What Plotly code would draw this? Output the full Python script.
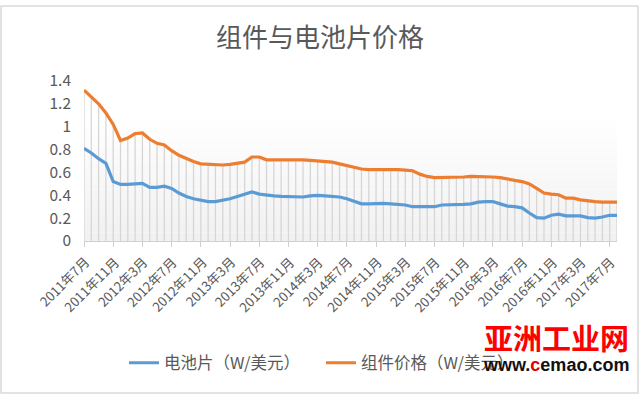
import plotly.graph_objects as go

months = []
for k in range(74):
    y = 2011 + (6 + k) // 12
    m = (6 + k) % 12 + 1
    months.append(f"{y}年{m}月")

cell_price = [0.81, 0.77, 0.72, 0.68, 0.52, 0.495, 0.495, 0.50, 0.505, 0.47,
              0.47, 0.48, 0.46, 0.42, 0.39, 0.37, 0.355, 0.345, 0.345, 0.355,
              0.37, 0.39, 0.41, 0.43, 0.41, 0.40, 0.395, 0.39, 0.39, 0.385,
              0.385, 0.395, 0.40, 0.395, 0.39, 0.385, 0.37, 0.345, 0.325, 0.325,
              0.33, 0.33, 0.325, 0.32, 0.315, 0.30, 0.30, 0.295, 0.30, 0.315,
              0.315, 0.32, 0.32, 0.325, 0.34, 0.345, 0.345, 0.325, 0.305, 0.30,
              0.29, 0.245, 0.205, 0.20, 0.225, 0.235, 0.22, 0.22, 0.22, 0.205,
              0.20, 0.21, 0.225, 0.225]

module_price = [1.32, 1.26, 1.20, 1.12, 1.02, 0.88, 0.90, 0.94, 0.945, 0.89,
                0.855, 0.84, 0.79, 0.75, 0.72, 0.695, 0.675, 0.67, 0.665, 0.665,
                0.67, 0.68, 0.69, 0.735, 0.735, 0.71, 0.71, 0.71, 0.71, 0.715,
                0.71, 0.705, 0.70, 0.70, 0.69, 0.675, 0.66, 0.645, 0.63, 0.625,
                0.625, 0.63, 0.63, 0.625, 0.62, 0.615, 0.585, 0.565, 0.555, 0.555,
                0.555, 0.56, 0.56, 0.565, 0.565, 0.565, 0.56, 0.555, 0.54, 0.53,
                0.52, 0.50, 0.46, 0.42, 0.41, 0.405, 0.375, 0.375, 0.36, 0.35,
                0.345, 0.34, 0.34, 0.34]

y_ticks = [0, 0.2, 0.4, 0.6, 0.8, 1.0, 1.2, 1.4]
y_tick_text = ["0", "0.2", "0.4", "0.6", "0.8", "1", "1.2", "1.4"]

title_text = "组件与电池片价格"
name_cell = "电池片（W/美元）"
name_module = "组件价格（W/美元）"

idx = list(range(len(months)))
x_tickvals = idx[::4]
x_ticktext = months[::4]

FONT = "Noto Sans CJK SC, Noto Sans, sans-serif"
GRAY = "#595959"

# drop lines
dx, dy = [], []
for i, (a, b) in enumerate(zip(cell_price, module_price)):
    dx += [i, i, None]
    dy += [0, max(a, b), None]

fig = go.Figure()
fig.add_trace(go.Scatter(x=dx, y=dy, mode="lines", line=dict(color="#d6d6d6", width=1.3),
                         hoverinfo="skip", showlegend=False))
fig.add_trace(go.Scatter(x=idx, y=cell_price, mode="lines", name=name_cell,
                         line=dict(color="#5b9bd5", width=3.2)))
fig.add_trace(go.Scatter(x=idx, y=module_price, mode="lines", name=name_module,
                         line=dict(color="#ed7d31", width=3.2)))

shapes = []
# subtle vertical gradient in plot area
n = 14
for k in range(n):
    t = k / n
    g = int(241 + (255 - 241) * t)
    shapes.append(dict(type="rect", xref="x domain", yref="y domain",
                       x0=0, x1=1, y0=t * 0.75, y1=(k + 1) / n * 0.75,
                       fillcolor=f"rgb({g},{g},{g})", line=dict(width=0), layer="below"))
# outer frame
shapes.append(dict(type="rect", xref="paper", yref="paper",
                   x0=(1 - 84) / 533, x1=(638 - 84) / 533,
                   y0=(241 - 393) / 160, y1=(241 - 6) / 160,
                   line=dict(color="#d9d9d9", width=1.5), fillcolor="rgba(0,0,0,0)"))

annotations = []
# category tick labels, rotated like the source
for v, t in zip(x_tickvals, x_ticktext):
    annotations.append(dict(text=t, x=v, y=0, xref="x", yref="y",
                            xanchor="right", yanchor="top", textangle=-45,
                            xshift=12, yshift=-9, showarrow=False,
                            font=dict(family=FONT, size=13.2, color=GRAY)))
annotations += [
    dict(text="<b>亚洲工业网</b>", xref="paper", yref="paper",
         x=(556 - 84) / 533, y=(241 - 337) / 160, xanchor="center", yanchor="middle",
         showarrow=False, font=dict(family=FONT, size=29, color="#ff0000")),
    dict(text="<b>www.<span style='color:#e00000'>c</span>emao.com</b>", xref="paper", yref="paper",
         x=(556 - 84) / 533, y=(241 - 365) / 160, xanchor="center", yanchor="middle",
         showarrow=False, font=dict(family="Liberation Sans, Arial, sans-serif", size=18, color="#111111")),
]

fig.update_layout(
    width=640, height=394,
    margin=dict(l=84, r=23, t=81, b=153),
    paper_bgcolor="white", plot_bgcolor="white",
    title=dict(text=title_text, x=0.5, xref="container", xanchor="center",
               y=1 - 38 / 394, yanchor="middle",
               font=dict(family=FONT, size=26, color=GRAY)),
    font=dict(family=FONT, color=GRAY),
    showlegend=True,
    legend=dict(orientation="h", x=(124 - 84) / 533, xanchor="left",
                y=(241 - 363) / 160, yanchor="middle",
                entrywidth=152, entrywidthmode="pixels",
                font=dict(family=FONT, size=16.5, color=GRAY),
                bgcolor="rgba(0,0,0,0)"),
    shapes=shapes,
    annotations=annotations,
)

fig.update_xaxes(range=[0, 73], tickmode="array", tickvals=x_tickvals, ticktext=x_ticktext,
                 showticklabels=False, ticks="outside", ticklen=5, tickcolor="#d0d0d0",
                 showline=True, linecolor="#d0d0d0", linewidth=1, showgrid=False, zeroline=False)
fig.update_yaxes(range=[0, 1.4], tickmode="array", tickvals=y_ticks, ticktext=y_tick_text,
                 showgrid=False, zeroline=False, showline=False, ticks="",
                 ticklabelstandoff=12,
                 tickfont=dict(family=FONT, size=15.5, color=GRAY))

fig.write_html("out.html", config={"displayModeBar": False},
               post_script="document.body.style.margin='0';document.body.style.padding='0';")
